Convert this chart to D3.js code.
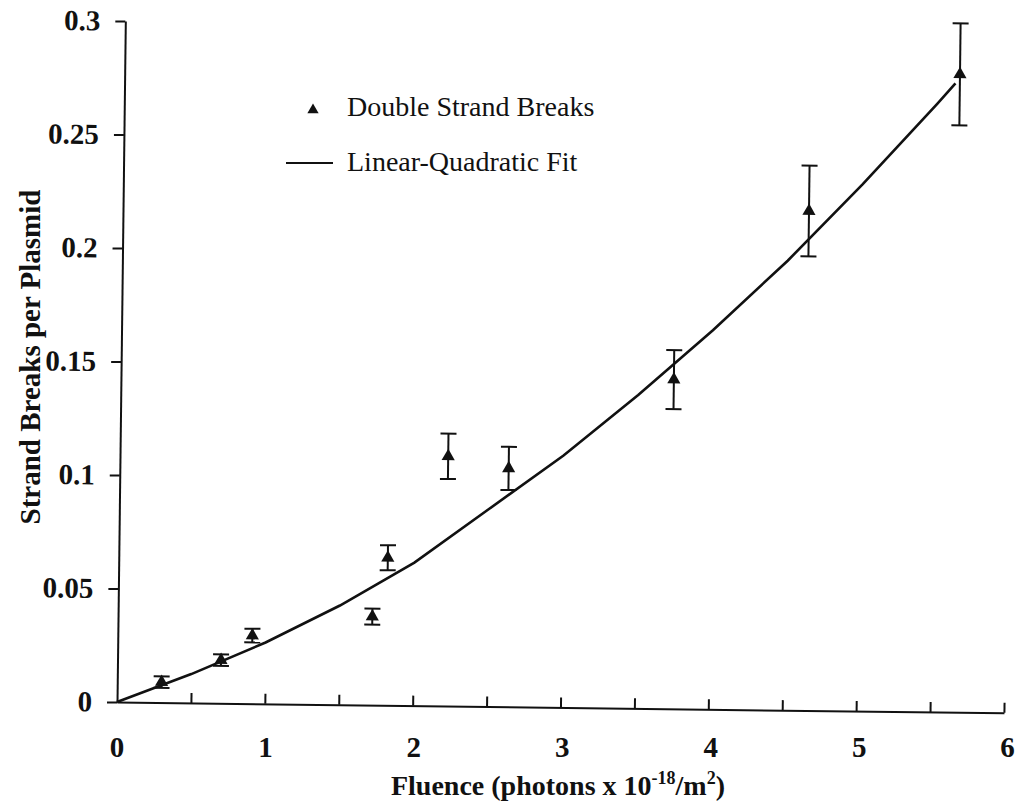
<!DOCTYPE html>
<html>
<head>
<meta charset="utf-8">
<script src="https://cdn.jsdelivr.net/npm/d3@7"></script>
<style>
  body { margin: 0; background: #fff; }
  svg { display: block; }
  text { font-family: "Liberation Serif", "Times New Roman", serif; fill: #111; }
  .axis path, .axis line { stroke: #111; stroke-width: 2; }
  .axis text { font-size: 29px; font-weight: bold; }
</style>
</head>
<body>
<svg width="1021" height="811"></svg>
<script>
// measured points (fluence, DSB per plasmid, error)
var fluence = [0.30, 0.70, 0.91, 1.72, 1.82, 2.22, 2.63, 3.74, 4.64, 5.65];
var dsb     = [0.009, 0.019, 0.030, 0.039, 0.065, 0.110, 0.105, 0.145, 0.220, 0.281];
var dsbErr  = [0.0025, 0.0025, 0.003, 0.0035, 0.0055, 0.010, 0.0095, 0.013, 0.020, 0.0225];

// linear-quadratic fit
var fitX = [0, 0.5, 1, 1.5, 2, 2.5, 3, 3.5, 4, 4.5, 5, 5.5, 5.62];
var fitY = [0, 0.0127, 0.027, 0.0437, 0.063, 0.087, 0.111, 0.138, 0.167, 0.198, 0.232, 0.268, 0.277];

var xTicks = [0.5, 1, 1.5, 2, 2.5, 3, 3.5, 4, 4.5, 5, 5.5, 6];
var xLabelVals = [0, 1, 2, 3, 4, 5, 6];
var xTickLabels = ["0", "1", "2", "3", "4", "5", "6"];
var yTicks = [0, 0.05, 0.1, 0.15, 0.2, 0.25, 0.3];
var yTickLabels = ["0", "0.05", "0.1", "0.15", "0.2", "0.25", "0.3"];

var svg = d3.select("svg");

var x = d3.scaleLinear().domain([0, 6]).range([0, 887]);
var y = d3.scaleLinear().domain([0, 0.3]).range([0, -681]);

// the scanned figure sits slightly tilted
var plot = svg.append("g")
    .attr("transform", "translate(117,702) rotate(0.7)");

plot.append("g")
    .attr("class", "axis")
    .call(d3.axisBottom(x).tickValues(xTicks).tickSize(-10).tickSizeOuter(0)
        .tickFormat(""));

// x tick labels stay level on the page
svg.append("g")
    .selectAll("text")
    .data(xLabelVals)
    .enter().append("text")
    .attr("x", function (d) { return 117 + x(d) + d * 0.6; })
    .attr("y", 757)
    .attr("text-anchor", "middle")
    .style("font-size", "29px")
    .style("font-weight", "bold")
    .text(function (d, i) { return xTickLabels[i]; });

plot.append("g")
    .attr("class", "axis")
    .call(d3.axisLeft(y).tickValues(yTicks).tickSize(10).tickSizeOuter(0)
        .tickPadding(15)
        .tickFormat(function (d, i) { return yTickLabels[i]; }));

// fit curve
var line = d3.line()
    .x(function (d) { return x(d[0]); })
    .y(function (d) { return y(d[1]); });

plot.append("path")
    .datum(d3.zip(fitX, fitY))
    .attr("d", line)
    .attr("fill", "none")
    .attr("stroke", "#111")
    .attr("stroke-width", 2.6);

// error bars
var pts = d3.zip(fluence, dsb, dsbErr);

var bars = plot.append("g")
    .attr("stroke", "#111")
    .attr("stroke-width", 2);

bars.selectAll("line.v")
    .data(pts)
    .enter().append("line")
    .attr("x1", function (d) { return x(d[0]); })
    .attr("x2", function (d) { return x(d[0]); })
    .attr("y1", function (d) { return y(d[1] - d[2]); })
    .attr("y2", function (d) { return y(d[1] + d[2]); });

bars.selectAll("line.top")
    .data(pts)
    .enter().append("line")
    .attr("x1", function (d) { return x(d[0]) - 8; })
    .attr("x2", function (d) { return x(d[0]) + 8; })
    .attr("y1", function (d) { return y(d[1] + d[2]); })
    .attr("y2", function (d) { return y(d[1] + d[2]); });

bars.selectAll("line.bot")
    .data(pts)
    .enter().append("line")
    .attr("x1", function (d) { return x(d[0]) - 8; })
    .attr("x2", function (d) { return x(d[0]) + 8; })
    .attr("y1", function (d) { return y(d[1] - d[2]); })
    .attr("y2", function (d) { return y(d[1] - d[2]); });

var tri = d3.symbol().type(d3.symbolTriangle).size(75);

plot.selectAll("path.pt")
    .data(pts)
    .enter().append("path")
    .attr("class", "pt")
    .attr("d", tri)
    .attr("fill", "#111")
    .attr("transform", function (d) { return "translate(" + x(d[0]) + "," + y(d[1]) + ")"; });

// legend
svg.append("path")
    .attr("d", d3.symbol().type(d3.symbolTriangle).size(55))
    .attr("fill", "#111")
    .attr("transform", "translate(313,110)");

svg.append("text")
    .attr("x", 347)
    .attr("y", 116)
    .style("font-size", "28px")
    .text("Double Strand Breaks");

svg.append("line")
    .attr("x1", 286).attr("x2", 333)
    .attr("y1", 163).attr("y2", 163)
    .attr("stroke", "#111")
    .attr("stroke-width", 2);

svg.append("text")
    .attr("x", 347)
    .attr("y", 171)
    .style("font-size", "28px")
    .text("Linear-Quadratic Fit");

// axis titles
var xt = svg.append("text")
    .attr("x", 558)
    .attr("y", 795)
    .attr("text-anchor", "middle")
    .style("font-size", "28px")
    .style("font-weight", "bold");
xt.append("tspan").text("Fluence (photons x 10");
xt.append("tspan").attr("dy", -11).style("font-size", "18px").text("-18");
xt.append("tspan").attr("dy", 11).text("/m");
xt.append("tspan").attr("dy", -11).style("font-size", "18px").text("2");
xt.append("tspan").attr("dy", 11).text(")");

svg.append("text")
    .attr("transform", "translate(40,357) rotate(-90)")
    .attr("text-anchor", "middle")
    .style("font-size", "29px")
    .style("font-weight", "bold")
    .text("Strand Breaks per Plasmid");
</script>
</body>
</html>
